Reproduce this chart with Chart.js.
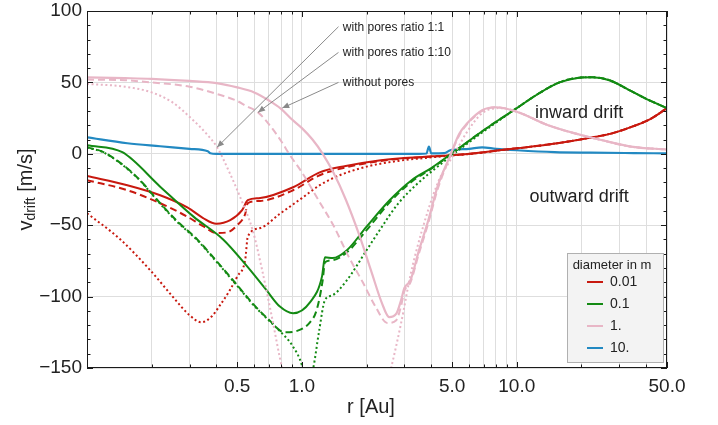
<!DOCTYPE html>
<html><head><meta charset="utf-8">
<script src="https://cdn.jsdelivr.net/npm/chart.js@4/dist/chart.umd.min.js"></script>
<style>html,body{margin:0;padding:0;background:#fff}#wrap{width:718px;height:425px;position:relative}</style>
</head><body><div id="wrap"><canvas id="c" width="718" height="425"></canvas></div>
<script>
// ---------- data (r in AU, v in m/s) ----------
const diameters = ['0.01', '0.1', '1.', '10.'];
const legendTitle = 'diameter in m';
const xTickLabels = [0.5, 1, 5, 10, 50];
const xGridValues = [0.1,0.2,0.3,0.4,0.5,0.6,0.7,0.8,0.9,1,2,3,4,5,6,7,8,9,10,20,30,40,50];
const yTickLabels = [-150, -100, -50, 0, 50, 100];

// 0.01 m
const red_noPores = [[0.1,-15.5],[0.154,-22],[0.219,-29],[0.293,-37.5],[0.347,-45],[0.40,-49],[0.464,-46.5],[0.527,-39.5],[0.56,-32.5],[0.64,-31],[0.91,-23.4],[1.21,-13],[1.6,-8.5],[2.2,-5],[3.0,-3],[4.0,-1.8],[5.0,-1],[6.5,0.5],[8.3,2.5],[11,4.5],[14,6.5],[18,9],[22.5,11.5],[28,14.5],[34.4,19],[42,24.5],[50,32]];
const red_pores1to10 = [[0.1,-18.5],[0.154,-25.5],[0.219,-34.6],[0.293,-44],[0.347,-50.7],[0.40,-55.5],[0.45,-55],[0.50,-50],[0.545,-42],[0.56,-34.6],[0.64,-33],[0.91,-25.5],[1.21,-15],[1.6,-9.5],[2.2,-5.5],[3.0,-3.2],[4.0,-2],[5.0,-1],[6.5,0.5],[8.3,2.5],[11,4.5],[14,6.5],[18,9],[22.5,11.5],[28,14.5],[34.4,19],[42,24.5],[50,32]];
const red_pores1to1 = [[0.1,-41.6],[0.143,-60],[0.197,-81.6],[0.257,-102],[0.30,-113],[0.34,-118],[0.38,-114],[0.416,-106],[0.46,-96],[0.50,-86],[0.545,-74],[0.56,-58],[0.64,-52],[0.79,-42],[1.0,-31],[1.21,-22],[1.5,-15],[2.0,-9],[2.8,-5],[4.0,-2.5],[5.0,-1.2],[6.5,0.3],[8.3,2.4],[11,4.5],[14,6.5],[18,9],[22.5,11.5],[28,14.5],[34.4,19],[42,24.5],[50,32]];

// 0.1 m
const green_noPores = [[0.1,6],[0.146,1.1],[0.219,-23],[0.313,-44],[0.43,-60],[0.55,-78],[0.68,-95],[0.79,-107],[0.91,-111.6],[1.09,-104],[1.24,-86],[1.28,-72.5],[1.39,-73],[1.62,-67.5],[2.0,-51],[2.56,-32.5],[3.24,-18.5],[4.0,-10],[5.0,0.4],[6.7,14.4],[8.3,24],[10,32],[12.7,42.4],[15.8,50],[19.5,53.3],[22.4,53.6],[27,51.5],[33,45],[40,38.5],[50,32]];
const green_pores1to10 = [[0.1,4.6],[0.12,1],[0.17,-16],[0.219,-34.6],[0.26,-46.5],[0.326,-60],[0.4,-75],[0.5,-92],[0.6,-106],[0.7,-116],[0.83,-125],[0.95,-124],[1.09,-118],[1.17,-109.6],[1.25,-88.5],[1.28,-76],[1.39,-74.5],[1.62,-69],[2.0,-53.5],[2.56,-34],[3.24,-19.5],[4.0,-10.5],[5.0,0.2],[6.7,14.4],[8.3,24],[10,32],[12.7,42.4],[15.8,50],[19.5,53.3],[22.4,53.6],[27,51.5],[33,45],[40,38.5],[50,32]];
const green_pores1to1 = [[0.1,4.4],[0.12,0.8],[0.17,-16.3],[0.219,-35],[0.26,-47],[0.326,-60.5],[0.4,-75.5],[0.5,-92.5],[0.6,-106.5],[0.7,-116.5],[0.8,-125],[0.9,-134],[1.0,-148],[1.06,-165],[1.13,-150],[1.2,-125],[1.28,-102.5],[1.39,-99],[1.62,-88.5],[2.0,-67.5],[2.3,-53.5],[2.8,-35],[3.5,-20],[4.2,-10],[5.0,-1],[6.7,13.5],[8.3,23.5],[10,32],[12.7,42.4],[15.8,50],[19.5,53.3],[22.4,53.6],[27,51.5],[33,45],[40,38.5],[50,32]];

// 1 m
const pink_noPores = [[0.1,53.5],[0.15,53],[0.2,52.5],[0.3,51],[0.4,49.5],[0.5,46.5],[0.6,43],[0.7,37.5],[0.8,31.5],[0.9,24],[1.0,18],[1.12,10],[1.25,0],[1.4,-13],[1.6,-32],[1.85,-57],[2.1,-82],[2.35,-104],[2.55,-114.4],[2.75,-112],[2.9,-102],[3.0,-94],[3.2,-88.5],[3.5,-68],[3.85,-48],[4.3,-22],[4.86,-2.5],[5.4,14],[5.85,21],[6.9,30.5],[8.0,32.6],[10,29.5],[14,20],[19.5,13.5],[25,9.5],[34,5],[50,3]];
const pink_pores1to10 = [[0.1,52],[0.15,51.5],[0.2,50],[0.3,47],[0.4,42],[0.5,37],[0.55,33.5],[0.625,29],[0.7,21],[0.8,9],[0.88,-1],[1.0,-13],[1.2,-33],[1.4,-50],[1.65,-72],[1.92,-90],[2.2,-107],[2.5,-118.5],[2.75,-116.5],[2.9,-106],[3.0,-96],[3.2,-90],[3.5,-70],[3.85,-50],[4.3,-24],[4.86,-3],[5.4,13],[5.85,20.5],[6.9,30],[8.0,32.6],[10,29.5],[14,20],[19.5,13.5],[25,9.5],[34,5],[50,3]];
const pink_pores1to1 = [[0.1,49],[0.15,47],[0.2,43],[0.25,36],[0.312,23.5],[0.36,14],[0.403,4.6],[0.46,-13],[0.515,-30],[0.59,-53.5],[0.65,-80],[0.72,-112],[0.81,-150],[1.0,-190],[1.6,-220],[2.2,-190],[2.6,-150],[2.9,-118],[3.2,-85],[3.6,-55],[4.3,-20],[4.9,-4.5],[5.4,6],[5.85,15],[6.9,28.4],[8.3,32],[10,29.5],[14,20],[19.5,13.5],[25,9.5],[34,5],[50,3]];

// 10 m
const blue_all = [[0.1,11.5],[0.154,7.4],[0.219,5.3],[0.3,3.5],[0.365,1.8],[0.375,0.4],[0.4,0],[1,0],[2,0],[3.5,0],[3.8,0.2],[3.9,5],[4.0,0.3],[4.6,0.5],[4.9,2.5],[5.2,3],[6,3.5],[6.9,4.5],[8,3.5],[10,2.5],[15,1.2],[22,0.8],[35,0.5],[50,0.3]];

// annotations (data coords: [r, v])
const annotations = [
  {text: 'with pores ratio 1:1', at: [1.55, 88], from: [1.48, 89], to: [0.403, 4.6]},
  {text: 'with pores ratio 1:10', at: [1.55, 71], from: [1.48, 71], to: [0.625, 29]},
  {text: 'without pores', at: [1.55, 50], from: [1.48, 50], to: [0.81, 32]}
];
const regionLabels = [
  {text: 'inward drift', at: [19.5, 28.4]},
  {text: 'outward drift', at: [19.5, -30.5]}
];

// ---------- styles ----------
const COLORS = {red: '#c8190f', green: '#138a13', pink: '#e8b6c6', blue: '#2289c2'};
const DASH = {solid: [], dashed: [7, 4], dotted: [2, 2.6]};
const FONT = '"Liberation Sans", Arial, sans-serif';

function ds(points, color, style, w) {
  return {
    data: points.map(p => ({x: p[0], y: p[1]})),
    borderColor: color, backgroundColor: color,
    borderWidth: w || 2, borderDash: DASH[style],
    pointRadius: 0, fill: false, cubicInterpolationMode: 'monotone'
  };
}

const datasets = [
  ds(pink_pores1to1, COLORS.pink, 'dotted', 2),
  ds(pink_pores1to10, COLORS.pink, 'dashed', 2),
  ds(pink_noPores, COLORS.pink, 'solid', 2.2),
  ds(green_pores1to1, COLORS.green, 'dotted', 2),
  ds(green_pores1to10, COLORS.green, 'dashed', 2),
  ds(green_noPores, COLORS.green, 'solid', 2),
  ds(red_pores1to1, COLORS.red, 'dotted', 2),
  ds(red_pores1to10, COLORS.red, 'dashed', 2),
  ds(red_noPores, COLORS.red, 'solid', 2),
  ds(blue_all, COLORS.blue, 'solid', 2.2)
];
const legendColors = [COLORS.red, COLORS.green, COLORS.pink, COLORS.blue];

const fmt = v => (v < 0 ? '\u2212' + Math.abs(v) : String(v));
const fmtX = v => (v >= 1 ? v.toFixed(1) : String(v));

const decorPlugin = {
  id: 'decor',
  afterDatasetsDraw(chart) {
    const {ctx, chartArea: a, scales: {x, y}} = chart;
    ctx.save();
    // frame
    ctx.strokeStyle = '#1a1a1a'; ctx.lineWidth = 1;
    ctx.strokeRect(a.left + 0.5, a.top + 0.5, a.right - a.left - 1, a.bottom - a.top - 1);
    ctx.beginPath();
    xGridValues.forEach(v => {
      const p = Math.round(x.getPixelForValue(v)) + 0.5;
      const L = xTickLabels.includes(v) ? 6 : 3.5;
      ctx.moveTo(p, a.bottom); ctx.lineTo(p, a.bottom - L);
      ctx.moveTo(p, a.top); ctx.lineTo(p, a.top + L);
    });
    for (let v = yTickLabels[0]; v <= yTickLabels[yTickLabels.length - 1]; v += 10) {
      const p = Math.round(y.getPixelForValue(v)) + 0.5;
      const L = yTickLabels.includes(v) ? 6 : 3.5;
      ctx.moveTo(a.left, p); ctx.lineTo(a.left + L, p);
      ctx.moveTo(a.right, p); ctx.lineTo(a.right - L, p);
    }
    ctx.stroke();

    // annotations
    ctx.strokeStyle = '#8a8a8a'; ctx.fillStyle = '#8a8a8a'; ctx.lineWidth = 1;
    annotations.forEach(an => {
      const x0 = x.getPixelForValue(an.from[0]), y0 = y.getPixelForValue(an.from[1]);
      const x1 = x.getPixelForValue(an.to[0]), y1 = y.getPixelForValue(an.to[1]);
      ctx.beginPath(); ctx.moveTo(x0, y0); ctx.lineTo(x1, y1); ctx.stroke();
      const ang = Math.atan2(y1 - y0, x1 - x0), h = 7, wdt = 3;
      ctx.beginPath();
      ctx.moveTo(x1, y1);
      ctx.lineTo(x1 - h * Math.cos(ang) + wdt * Math.sin(ang), y1 - h * Math.sin(ang) - wdt * Math.cos(ang));
      ctx.lineTo(x1 - h * Math.cos(ang) - wdt * Math.sin(ang), y1 - h * Math.sin(ang) + wdt * Math.cos(ang));
      ctx.closePath(); ctx.fill();
    });
    ctx.fillStyle = '#222'; ctx.font = '12px ' + FONT; ctx.textBaseline = 'middle'; ctx.textAlign = 'left';
    annotations.forEach(an => {
      ctx.fillText(an.text, x.getPixelForValue(an.at[0]), y.getPixelForValue(an.at[1]));
    });
    ctx.font = '18px ' + FONT; ctx.textAlign = 'center';
    regionLabels.forEach(l => ctx.fillText(l.text, x.getPixelForValue(l.at[0]), y.getPixelForValue(l.at[1])));

    // legend
    const bw = 96, bh = 109;
    const bx = a.right - 100, by = a.bottom - 115;
    ctx.fillStyle = '#f3f3f3'; ctx.fillRect(bx, by, bw, bh);
    ctx.strokeStyle = '#b0b0b0'; ctx.lineWidth = 1; ctx.strokeRect(bx + 0.5, by + 0.5, bw, bh);
    ctx.fillStyle = '#222'; ctx.font = '13px ' + FONT; ctx.textAlign = 'center';
    ctx.fillText(legendTitle, bx + bw / 2 - 3, by + 12);
    ctx.textAlign = 'left'; ctx.font = '14px ' + FONT;
    diameters.forEach((d, i) => {
      const yy = by + 29 + i * 22;
      ctx.strokeStyle = legendColors[i]; ctx.lineWidth = 2;
      ctx.beginPath(); ctx.moveTo(bx + 20, yy); ctx.lineTo(bx + 36, yy); ctx.stroke();
      ctx.fillStyle = '#222'; ctx.fillText(d, bx + 43, yy);
    });

    // axis titles
    ctx.fillStyle = '#222'; ctx.textAlign = 'center'; ctx.font = '20px ' + FONT;
    ctx.fillText('r [Au]', (a.left + a.right) / 2 - 6, 407);
    ctx.save();
    ctx.translate(26, (a.top + a.bottom) / 2);
    ctx.rotate(-Math.PI / 2);
    ctx.textAlign = 'left';
    ctx.font = '20px ' + FONT; const w1 = ctx.measureText('v').width;
    ctx.font = '14px ' + FONT; const w2 = ctx.measureText('drift').width;
    ctx.font = '20px ' + FONT; const w3 = ctx.measureText(' [m/s]').width;
    let sx = -(w1 + w2 + w3) / 2;
    ctx.fillText('v', sx, 0); sx += w1;
    ctx.font = '14px ' + FONT; ctx.fillText('drift', sx, 5); sx += w2;
    ctx.font = '20px ' + FONT; ctx.fillText(' [m/s]', sx, 0);
    ctx.restore();
    ctx.restore();
  }
};

new Chart(document.getElementById('c'), {
  type: 'line',
  data: {datasets},
  plugins: [decorPlugin],
  options: {
    responsive: false, animation: false, devicePixelRatio: 1,
    layout: {padding: {top: 11, right: 51, left: 0, bottom: 0}},
    plugins: {legend: {display: false}, tooltip: {enabled: false}},
    scales: {
      x: {
        type: 'logarithmic', min: 0.1, max: 50,
        afterBuildTicks: s => { s.ticks = xGridValues.map(v => ({value: v})); },
        afterFit: s => { s.height = 57; },
        grid: {color: '#dedede', lineWidth: 1, drawTicks: false},
        border: {display: false},
        ticks: {autoSkip: false, maxRotation: 0, padding: 7, color: '#222',
          font: {family: FONT, size: 19},
          callback: v => (xTickLabels.includes(v) ? fmtX(v) : '')}
      },
      y: {
        type: 'linear', min: -150, max: 100,
        afterBuildTicks: s => { s.ticks = yTickLabels.map(v => ({value: v})); },
        afterFit: s => { s.width = 87; s.paddingTop = 0; s.paddingBottom = 0; },
        grid: {color: '#dedede', lineWidth: 1, drawTicks: false},
        border: {display: false},
        ticks: {padding: 5, color: '#222', font: {family: FONT, size: 19, lineHeight: 0.8}, callback: v => fmt(v)}
      }
    }
  }
});
</script>
</body></html>
